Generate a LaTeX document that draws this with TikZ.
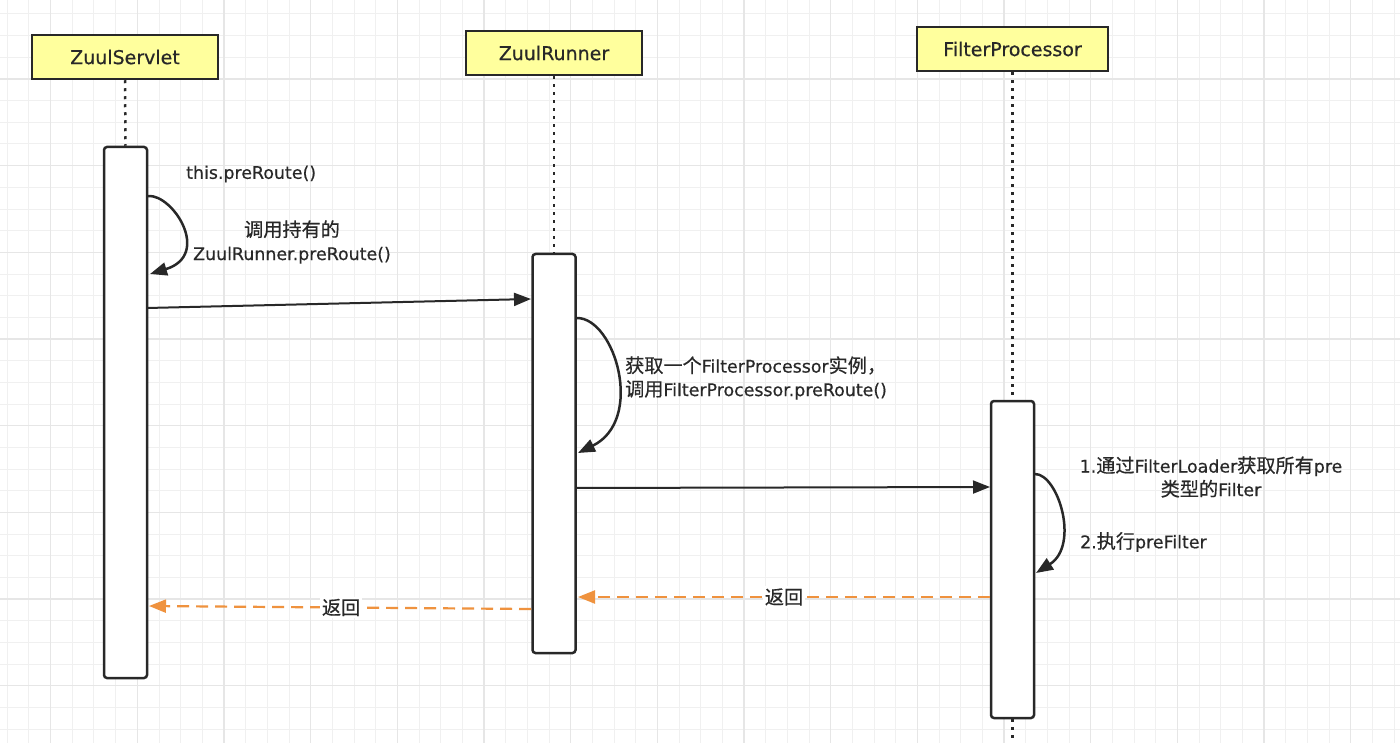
\documentclass[tikz,border=0pt]{standalone}
\usepackage{fontspec}
\setmainfont[FakeBold=0.5]{DejaVu Sans}
\newfontfamily\cjkfam[Scale=1.1,FakeBold=0.5]{Noto Sans CJK SC}
\newcommand\zh[1]{{\cjkfam #1}}
\usetikzlibrary{arrows.meta,calc}
\definecolor{gridminor}{RGB}{240,240,240}
\definecolor{gridmajor}{RGB}{230,230,230}
\definecolor{headfill}{RGB}{255,255,157}
\definecolor{ink}{RGB}{40,40,40}
\definecolor{ret}{RGB}{239,146,62}
\tikzset{
  head/.style={draw=ink,line width=2.5pt,fill=headfill,minimum height=44pt,inner sep=0pt,font=\fontsize{19}{23}\selectfont,text=ink},
  act/.style={draw=ink,line width=2.5pt,fill=white,rounded corners=3pt,minimum width=43pt,inner sep=0pt},
  life/.style={draw=ink,line width=2.5pt,dash pattern=on 3pt off 5pt},
  msg/.style={draw=ink,line width=2pt,-{Triangle[length=17pt,width=13pt]}},
  selfmsg/.style={draw=ink,line width=2.5pt,-{Triangle[length=17pt,width=13pt]}},
  retmsg/.style={draw=ret,line width=2.2pt,dash pattern=on 12pt off 7pt,-{Triangle[length=17pt,width=13pt,fill=ret]}},
  lbl/.style={font=\fontsize{17.4}{23.5}\selectfont,text=ink,inner sep=1pt},
  retlbl/.style={lbl,fill=white,inner sep=2pt}
}
\begin{document}
\begin{tikzpicture}[x=1pt,y=-1pt]
\useasboundingbox (0,0) rectangle (1400,743);
\fill[white] (0,0) rectangle (1400,743);
% grid
\foreach \i in {0,...,64} {\draw[gridminor,line width=1pt] ({7.33+\i*21.667},0) -- ({7.33+\i*21.667},743);}
\foreach \j in {0,...,34} {\draw[gridminor,line width=1pt] (0,{14+\j*21.667}) -- (1400,{14+\j*21.667});}
\foreach \i in {0,...,16} {\draw[gridmajor,line width=1.5pt] ({50.67+\i*86.667},0) -- ({50.67+\i*86.667},743);}
\foreach \j in {0,...,7} {\draw[gridmajor,line width=1.5pt] (0,{79+\j*86.667}) -- (1400,{79+\j*86.667});}

% heads
\node[head,minimum width=186pt] (hs) at (125,57) {ZuulServlet};
\node[head,minimum width=176pt] (hr) at (554,53) {ZuulRunner};
\node[head,minimum width=191pt] (hf) at (1012.5,49) {FilterProcessor};

% activations
\node[act,minimum height=531pt] (as) at (125.5,412.5) {};
\node[act,minimum height=399pt] (ar) at (554,453.5) {};
\node[act,minimum height=317pt] (af) at (1012.5,559.5) {};

% lifelines
\coordinate (fend) at (1012.5,743);
\draw[life] (hs.south) -- (as.north);
\draw[life] (hr.south) -- (ar.north);
\draw[life] (hf.south) -- (af.north);
\draw[life] (af.south) -- (fend);

% endpoints
\coordinate (s1a) at (148,196);
\coordinate (s1b) at (150,274);
\coordinate (m1a) at (147,308);
\coordinate (m1b) at (531,299);
\coordinate (s2a) at (577,318);
\coordinate (s2b) at (578,453);
\coordinate (m2a) at (576,488);
\coordinate (m2b) at (990,487);
\coordinate (s3a) at (1035,474);
\coordinate (s3b) at (1036,573);
\coordinate (r1a) at (990,597);
\coordinate (r1b) at (578,597);
\coordinate (r2a) at (531,609);
\coordinate (r2b) at (149,606);

% self calls
\draw[selfmsg] (s1a) .. controls (173,194) and (212,255) .. (s1b);
\draw[selfmsg] (s2a) .. controls (615,318) and (645,420) .. (s2b);
\draw[selfmsg] (s3a) .. controls (1058,474) and (1080,545) .. (s3b);

% messages
\draw[msg] (m1a) -- (m1b);
\draw[msg] (m2a) -- (m2b);

% returns
\draw[retmsg] (r1a) -- node[retlbl,pos=0.5] (rl1) {\zh{返回}} (r1b);
\draw[retmsg] (r2a) -- node[retlbl,pos=0.497] (rl2) {\zh{返回}} (r2b);

% labels
\node[lbl,anchor=west] (t1) at (185,174) {this.preRoute()};
\node[lbl,align=center] (t2) at (292,242) {\zh{调用持有的}\\ZuulRunner.preRoute()};
\node[lbl,anchor=west,align=left] (t3) at (624,378) {\zh{获取一个}FilterProcessor\zh{实例，}\\\zh{调用}FilterProcessor.preRoute()};
\node[lbl,align=center] (t4) at (1211,477) {1.\zh{通过}FilterLoader\zh{获取所有}pre\\\zh{类型的}Filter};
\node[lbl,anchor=west] (t5) at (1079,542) {2.\zh{执行}preFilter};
\end{tikzpicture}
\end{document}
